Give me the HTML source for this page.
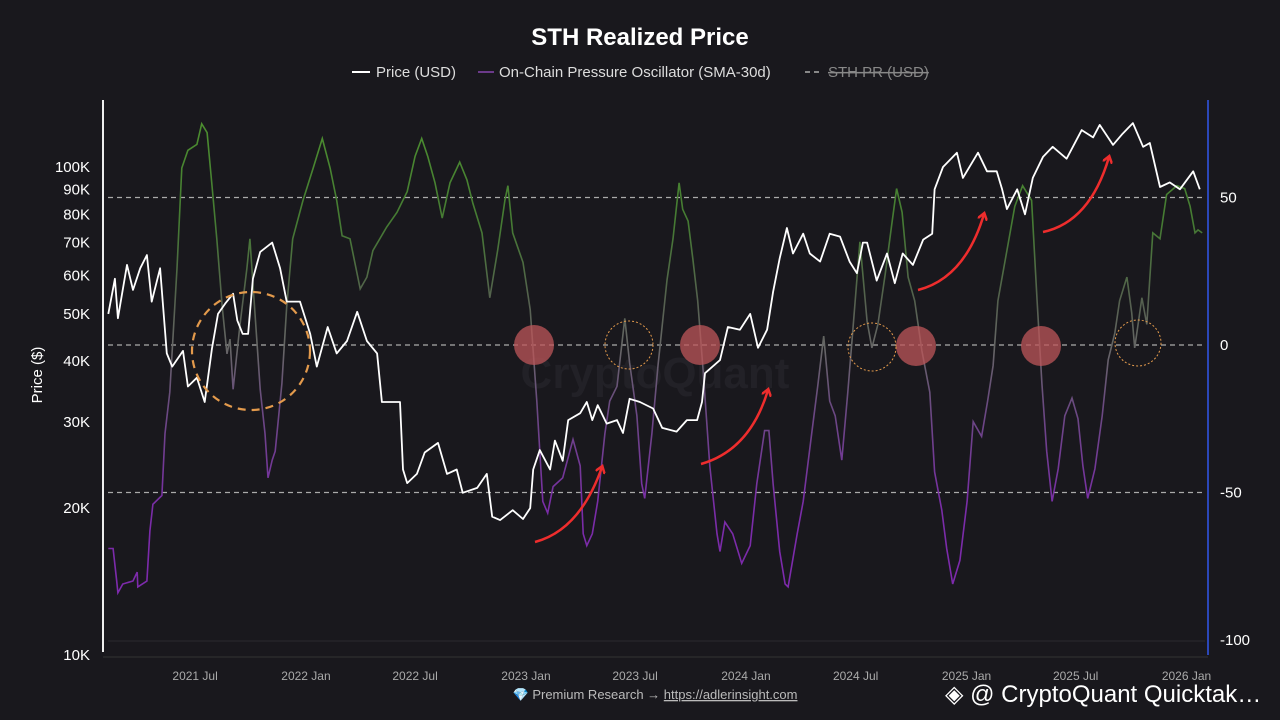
<!DOCTYPE html>
<html><head><meta charset="utf-8"><style>
body{margin:0;background:#19181d;font-family:"Liberation Sans",sans-serif;}
svg{display:block}
</style></head><body>
<svg id="chart" width="1280" height="720" viewBox="0 0 1280 720">
<defs>
<linearGradient id="oscGrad" gradientUnits="userSpaceOnUse" x1="0" y1="120" x2="0" y2="640">
<stop offset="0" stop-color="#4c8f2f"/><stop offset="0.2" stop-color="#457a33"/><stop offset="0.35" stop-color="#55604f"/><stop offset="0.44" stop-color="#666"/><stop offset="0.55" stop-color="#6a4a80"/><stop offset="0.75" stop-color="#7a2ca8"/><stop offset="1" stop-color="#8028b0"/>
</linearGradient>
<marker id="ah" markerWidth="10" markerHeight="10" refX="6" refY="5" orient="auto" markerUnits="userSpaceOnUse"><path d="M0,0 L7,5 L0,10" fill="none" stroke="#ee2d2d" stroke-width="2.5"/></marker>
</defs>
<rect width="1280" height="720" fill="#19181d"/>
<text x="640" y="45" text-anchor="middle" fill="#fff" font-size="24" font-weight="bold">STH Realized Price</text>
<g font-size="15" fill="#ddd">
<g><line x1="352" y1="72" x2="370" y2="72" stroke="#fff" stroke-width="2"/><text x="376" y="77">Price (USD)</text></g>
<g><line x1="478" y1="72" x2="494" y2="72" stroke="#6b3a8a" stroke-width="2"/><text x="499" y="77">On-Chain Pressure Oscillator (SMA-30d)</text></g>
<g><line x1="805" y1="72" x2="823" y2="72" stroke="#888" stroke-width="2" stroke-dasharray="5,4"/><text x="828" y="77" fill="#888" text-decoration="line-through">STH PR (USD)</text></g>
</g>
<text x="655" y="388" text-anchor="middle" fill="#222127" font-size="44" font-weight="bold">CryptoQuant</text>
<line x1="103" y1="100" x2="103" y2="652" stroke="#eee" stroke-width="2"/>
<line x1="1208" y1="100" x2="1208" y2="655" stroke="#2b47b8" stroke-width="2"/>
<line x1="108" y1="641" x2="1205" y2="641" stroke="#2a2a30" stroke-width="1"/>
<line x1="103" y1="657" x2="1208" y2="657" stroke="#333" stroke-width="1"/>
<text transform="translate(42,375) rotate(-90)" text-anchor="middle" fill="#fff" font-size="15">Price ($)</text>
<g id="leftTicks" font-size="15" fill="#fff" text-anchor="end"></g>
<g id="rightTicks" font-size="15" fill="#fff"></g>
<g id="xTicks" font-size="12" fill="#aaa" text-anchor="middle"></g>
<g id="refLines"></g>
<path id="oscPath" fill="none" stroke="url(#oscGrad)" stroke-width="1.6"/>
<path id="pricePath" fill="none" stroke="#fff" stroke-width="1.8" stroke-linejoin="round"/>
<g fill="rgba(190,85,90,0.75)">
<circle cx="534" cy="345" r="20"/>
<circle cx="700" cy="345" r="20"/>
<circle cx="916" cy="346" r="20"/>
<circle cx="1041" cy="346" r="20"/>
</g>
<g fill="none" stroke="#e39a4c">
<circle cx="251" cy="351" r="59" stroke-width="2.2" stroke-dasharray="8,6"/>
<circle cx="629" cy="345" r="24" stroke-width="1" stroke-dasharray="2,2"/>
<circle cx="872" cy="347" r="24" stroke-width="1" stroke-dasharray="2,2"/>
<circle cx="1138" cy="343" r="23" stroke-width="1" stroke-dasharray="2,2"/>
</g>
<g fill="none" stroke="#ee2d2d" stroke-width="2.5" marker-end="url(#ah)">
<path d="M535,542 Q580,530 602,467"/>
<path d="M701,464 Q750,450 768,390"/>
<path d="M918,290 Q965,278 984,214"/>
<path d="M1043,232 Q1090,222 1109,157"/>
</g>
<text x="655" y="699" text-anchor="middle" fill="#bbb" font-size="13"><tspan fill="#5ac8f0">💎</tspan> Premium Research → <tspan text-decoration="underline">https://adlerinsight.com</tspan></text>
<text x="945" y="702" fill="#fff" font-size="24">◈ @ CryptoQuant Quicktak…</text>
</svg>
<script>
const leftTickValues=[10000,20000,30000,40000,50000,60000,70000,80000,90000,100000];
const leftTickLabels=["10K","20K","30K","40K","50K","60K","70K","80K","90K","100K"];
const rightTickValues=[50,0,-50,-100];
const xTickDays=[181,365,546,730,911,1095,1277,1461,1642,1826];
const xTickLabels=["2021 Jul","2022 Jan","2022 Jul","2023 Jan","2023 Jul","2024 Jan","2024 Jul","2025 Jan","2025 Jul","2026 Jan"];
const refLevels=[50,0,-50];
const priceDays=[37,48,53,68,78,90,101,109,123,134,143,161,169,184,197,209,219,231,244,251,260,269,277,289,309,322,333,355,372,383,401,416,433,450,466,483,491,509,521,526,533,549,562,584,599,615,625,649,665,674,687,708,725,737,742,753,770,778,791,800,820,831,840,849,864,881,891,902,919,941,956,980,997,1014,1022,1027,1052,1065,1085,1102,1115,1130,1140,1151,1163,1173,1190,1201,1218,1234,1251,1267,1279,1289,1296,1312,1329,1342,1355,1372,1389,1404,1408,1422,1445,1455,1480,1495,1511,1520,1528,1545,1558,1571,1588,1604,1627,1652,1671,1682,1704,1720,1737,1754,1765,1782,1798,1815,1837,1848];
const priceK=[50,59,49,63,56,62,66,53,62,41.5,39,42,35.5,37,33,42.5,50,52.5,55,48.5,45.5,45.5,59,67,70,62,53,53,45.5,39,47,41.5,44,50.5,44,41.5,33,33,33,24,22.5,23.5,26,27.2,23.5,24,21.5,22,23.5,19.2,18.9,19.8,19,20,24,26.3,24,27.5,25,30.3,31.3,33,30.3,32.5,29.8,30.3,28.5,33.5,33,32,29.2,28.7,30.3,30.3,33,37.8,40.2,47,46.4,50,42.6,46.4,55.5,65,75,66.5,73,66.5,64,73,72,64,60.6,70,70,58.5,66.5,57.8,66.5,63,71,73,90,100,107,95,107,98,98,90,82,90,80,95,105,110,104,119,115,122,111,117,123,110,112,91,93,90,98,90];
const oscDays=[37,45,51,53,61,78,85,86,101,106,111,126,131,139,151,159,169,184,192,201,209,217,226,234,239,244,255,267,272,277,289,297,302,309,314,325,333,343,360,377,392,405,416,425,438,455,466,476,499,516,533,546,557,567,579,591,604,620,632,642,657,670,683,695,700,708,725,737,748,758,766,775,791,808,820,825,831,840,849,861,869,881,894,902,914,922,927,939,949,964,974,984,990,999,1007,1015,1024,1035,1047,1052,1060,1073,1088,1102,1113,1126,1133,1140,1151,1160,1165,1180,1190,1204,1214,1224,1234,1243,1254,1264,1272,1284,1296,1304,1314,1326,1337,1345,1354,1364,1375,1387,1400,1408,1420,1428,1438,1450,1462,1472,1486,1496,1505,1513,1528,1541,1554,1569,1578,1586,1594,1603,1613,1624,1636,1646,1654,1662,1674,1686,1696,1707,1715,1727,1735,1740,1752,1760,1770,1782,1793,1810,1823,1832,1840,1845,1852];
const oscValues=[-69,-69,-80,-84,-81,-80,-77,-82,-80,-63,-54,-51,-30,-16,26,60,66,68,75,72,54,36,13,-3,2,-15,6,26,36,21,-15,-30,-45,-39,-36,-13,13,36,49,60,70,60,49,37,36,19,23,32,40,45,52,64,70,64,55,43,55,62,56,48,38,16,32,49,54,38,28,12,-19,-53,-57,-48,-45,-32,-41,-64,-68,-64,-53,-30,-19,-14,9,-6,-24,-47,-52,-30,-7,22,36,55,46,42,29,15,-9,-41,-64,-70,-60,-64,-74,-68,-47,-29,-29,-47,-70,-81,-82,-64,-53,-30,-14,3,-19,-24,-39,-16,4,35,8,-1,7,24,41,53,45,23,15,-2,-16,-43,-56,-69,-81,-73,-53,-26,-31,-19,-7,15,32,47,54,49,15,-13,-36,-53,-42,-24,-18,-25,-41,-52,-42,-24,-5,4,15,23,11,-1,16,7,38,36,51,54,53,47,38,39,38];

const xScale=d=>86+d*0.6027;
const yPrice=p=>655-488*Math.log10(p/10000);
const yOsc=v=>345-v*2.95;
const NS="http://www.w3.org/2000/svg";

const lt=document.getElementById('leftTicks');
leftTickValues.forEach((v,i)=>{const t=document.createElementNS(NS,'text');t.setAttribute('x',90);t.setAttribute('y',yPrice(v)+5);t.textContent=leftTickLabels[i];


lt.appendChild(t);});
const rt=document.getElementById('rightTicks');
rightTickValues.forEach(v=>{const t=document.createElementNS(NS,'text');t.setAttribute('x',1220);t.setAttribute('y',yOsc(v)+5);t.textContent=v;


rt.appendChild(t);});
const xt=document.getElementById('xTicks');
xTickDays.forEach((d,i)=>{const t=document.createElementNS(NS,'text');t.setAttribute('x',xScale(d));t.setAttribute('y',680);t.textContent=xTickLabels[i];


xt.appendChild(t);});
const rl=document.getElementById('refLines');
refLevels.forEach(v=>{const l=document.createElementNS(NS,'line');l.setAttribute('x1',108);l.setAttribute('x2',1205);l.setAttribute('y1',yOsc(v));l.setAttribute('y2',yOsc(v));l.setAttribute('stroke','#aaa');l.setAttribute('stroke-width','1.2');l.setAttribute('stroke-dasharray','5,4');


rl.appendChild(l);});
document.getElementById('pricePath').setAttribute('d',priceDays.map((d,i)=>(i?'L':'M')+xScale(d).toFixed(1)+','+yPrice(priceK[i]*1000).toFixed(1)).join(' '));
document.getElementById('oscPath').setAttribute('d',oscDays.map((d,i)=>(i?'L':'M')+xScale(d).toFixed(1)+','+yOsc(oscValues[i]).toFixed(1)).join(' '));
</script>
</body></html>
